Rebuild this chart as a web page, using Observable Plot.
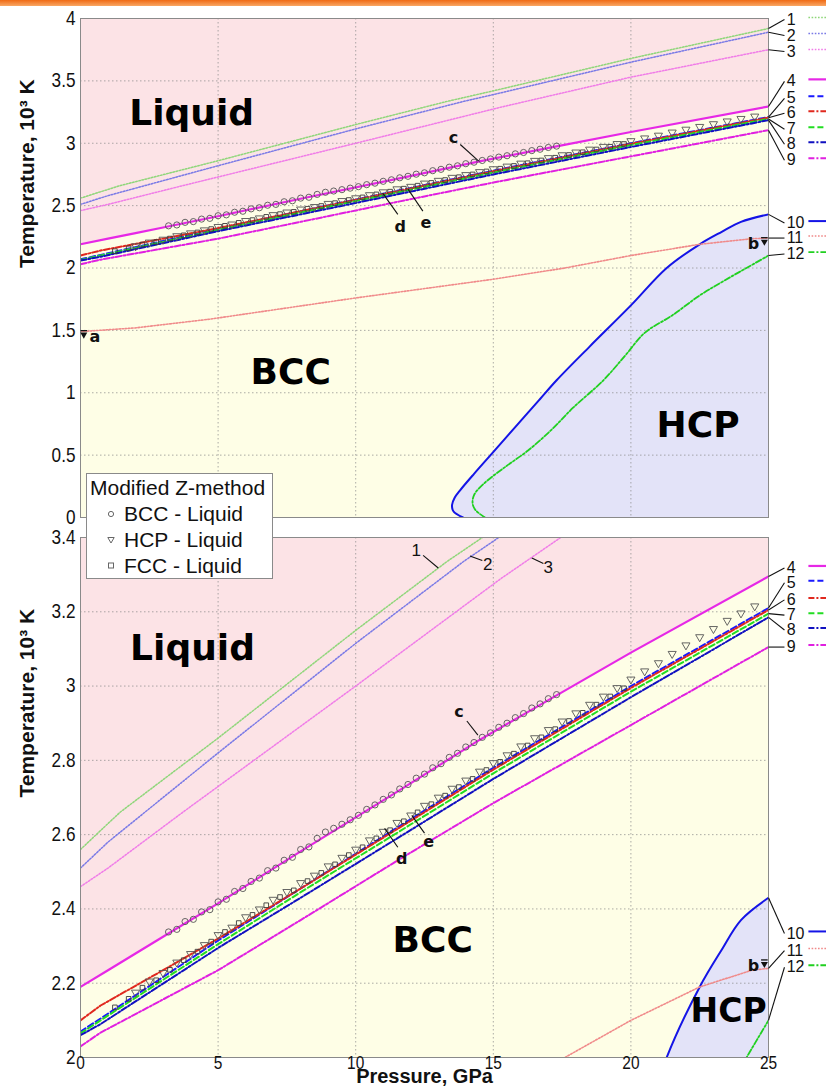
<!DOCTYPE html>
<html><head><meta charset="utf-8">
<script src="https://cdn.jsdelivr.net/npm/d3@7"></script>
<script src="https://cdn.jsdelivr.net/npm/@observablehq/plot@0.6"></script>
<style>
body{margin:0;background:#fff;width:826px;height:1086px;position:relative;overflow:hidden;}
#bar{position:absolute;left:0;top:0;width:826px;height:6px;background:linear-gradient(#f06a14,#f9a764);z-index:5;}
#top{position:absolute;left:0;top:0;}
#bot{position:absolute;left:0;top:522px;}
#legend{position:absolute;left:86px;top:473px;width:185px;height:104px;background:#fff;border:1px solid #8a8a8a;z-index:4;font-family:"Liberation Sans",Arial,sans-serif;font-size:21px;color:#111;}
#legend div{position:absolute;white-space:nowrap;line-height:22px;}
#legend svg{position:absolute;left:0;top:0;}
</style></head>
<body>
<div id="bar"></div>
<div id="top"></div>
<div id="bot"></div>
<div id="legend">
  <svg width="185" height="104">
    <circle cx="24" cy="40" r="2.6" fill="none" stroke="#666" stroke-width="1"/>
    <path d="M20.8,63.5 L27.2,63.5 L24,69 Z" fill="none" stroke="#666" stroke-width="1"/>
    <rect x="21.5" y="89" width="5" height="5" fill="none" stroke="#666" stroke-width="1"/>
  </svg>
  <div style="left:3px;top:3px">Modified Z-method</div>
  <div style="left:37px;top:29px">BCC - Liquid</div>
  <div style="left:37px;top:55px">HCP - Liquid</div>
  <div style="left:37px;top:81px">FCC - Liquid</div>
</div>
<script>
// ---------------- data ----------------
const xTicks = [0, 5, 10, 15, 20, 25];
const yTicksTop = [0, 0.5, 1, 1.5, 2, 2.5, 3, 3.5, 4];
const yTicksBot = [2, 2.2, 2.4, 2.6, 2.8, 3, 3.2, 3.4];

const line1X = [0, 1, 1.45, 5, 10, 13.33, 15, 20, 25];
const line1Y = [2.56, 2.63, 2.661, 2.86, 3.15, 3.336, 3.42, 3.68, 3.92];
const line2X = [0, 1, 5, 10, 13.93, 15, 20, 25];
const line2Y = [2.51, 2.58, 2.82, 3.115, 3.336, 3.39, 3.65, 3.89];
const line3X = [0, 1, 3.73, 10, 15.27, 20, 25];
const line3Y = [2.46, 2.51, 2.661, 3.0, 3.289, 3.53, 3.75];
const line4X = [0, 1, 2, 3, 5, 8, 11.5, 14.5, 17.3, 20, 25];
const line4Y = [2.19, 2.235, 2.28, 2.325, 2.415, 2.555, 2.715, 2.855, 2.975, 3.09, 3.295];
const line5X = [0, 0.73, 5, 8, 11.4, 15, 20, 25];
const line5Y = [2.07, 2.105, 2.315, 2.455, 2.614, 2.78, 3.0, 3.21];
const line6X = [0, 0.73, 3, 5, 8, 11.4, 15, 20, 25];
const line6Y = [2.10, 2.14, 2.235, 2.32, 2.455, 2.61, 2.775, 2.995, 3.205];
const line7X = [0, 0.73, 5, 8, 11.4, 15, 20, 25];
const line7Y = [2.065, 2.10, 2.305, 2.445, 2.60, 2.765, 2.985, 3.195];
const line8X = [0, 0.73, 5, 8, 11.4, 15, 20, 25];
const line8Y = [2.06, 2.09, 2.295, 2.43, 2.585, 2.75, 2.97, 3.185];
const line9X = [0, 0.73, 5, 8, 11.6, 15, 20, 25];
const line9Y = [2.03, 2.067, 2.235, 2.37, 2.534, 2.685, 2.895, 3.105];
const line10X = [13.9, 13.55, 13.5, 13.6, 13.8, 14.3, 14.9, 15.5, 16.1, 16.7, 17.3, 18.5, 20, 21.3, 22.5, 23.3, 24, 25];
const line10Y = [0, 0.05, 0.1, 0.16, 0.22, 0.35, 0.5, 0.65, 0.8, 0.95, 1.1, 1.37, 1.7, 2.0, 2.19, 2.29, 2.37, 2.43];
const line11X = [0, 2, 4.7, 10, 15, 17.6, 20, 22.5, 24.4, 25];
const line11Y = [1.49, 1.52, 1.59, 1.76, 1.91, 2.0, 2.1, 2.19, 2.235, 2.24];
const line12X = [14.7, 14.35, 14.25, 14.3, 14.65, 15.4, 16.25, 17.1, 17.9, 19.0, 19.8, 20.5, 21.5, 22.5, 23.4, 24.2, 25];
const line12Y = [0, 0.06, 0.11, 0.18, 0.27, 0.4, 0.535, 0.7, 0.88, 1.1, 1.3, 1.48, 1.62, 1.78, 1.9, 2.0, 2.1];

// Modified Z-method points
const bccX = [3.2,3.5,3.8,4.1,4.4,4.7,5.0,5.3,5.6,5.9,6.2,6.5,6.8,7.1,7.4,7.7,8.0,8.3,8.6,8.9,9.2,9.5,9.8,10.1,10.4,10.7,11.0,11.3,11.6,11.9,12.2,12.5,12.8,13.1,13.4,13.7,14.0,14.3,14.6,14.9,15.2,15.5,15.8,16.1,16.4,16.7,17.0,17.3];
const bccY = [2.338,2.345,2.366,2.372,2.392,2.398,2.419,2.426,2.447,2.455,2.474,2.483,2.503,2.510,2.531,2.539,2.560,2.567,2.590,2.607,2.617,2.628,2.640,2.652,2.668,2.680,2.695,2.707,2.723,2.735,2.752,2.763,2.780,2.791,2.808,2.819,2.836,2.848,2.862,2.874,2.889,2.900,2.915,2.926,2.941,2.952,2.966,2.977];
const hcpX = [2.0,2.5,3.0,3.5,4.0,4.5,5.0,5.5,6.0,6.5,7.0,7.5,8.0,8.5,9.0,9.5,10.0,10.5,11.0,11.5,12.0,12.5,13.0,13.5,14.0,14.5,15.0,15.5,16.0,16.5,17.0,17.5,18.0,18.5,19.0,19.5,20.0,20.5,21.0,21.5,22.0,22.5,23.0,23.5,24.0,24.5];
const hcpY = [2.175,2.205,2.228,2.256,2.279,2.303,2.330,2.350,2.378,2.399,2.425,2.446,2.470,2.490,2.515,2.538,2.560,2.585,2.608,2.632,2.652,2.678,2.700,2.724,2.746,2.770,2.793,2.814,2.838,2.860,2.882,2.905,2.927,2.950,2.972,2.995,3.018,3.040,3.062,3.087,3.110,3.132,3.154,3.176,3.196,3.215];
const fccX = [1.25,1.75,2.25,2.75,3.25,3.75,4.25,4.75,5.25,5.75,6.25,6.75,7.25,7.75,8.25,8.75,9.25,9.75,10.25,10.75,11.25,11.75,12.25,12.75,13.25,13.75,14.25,14.75,15.25,15.75,16.25,16.75,17.25,17.75,18.25,18.75,19.25,19.75];
const fccY = [2.135,2.158,2.188,2.208,2.236,2.262,2.285,2.312,2.338,2.362,2.384,2.410,2.432,2.450,2.475,2.497,2.520,2.545,2.566,2.590,2.612,2.636,2.660,2.682,2.705,2.728,2.750,2.774,2.796,2.818,2.840,2.862,2.884,2.906,2.928,2.950,2.972,2.994];

const seriesIds = ["1","2","3","4","5","6","7","8","9","10","11","12"];
const seriesColors = ["#8fd67a","#7a7ae6","#f07ce8","#e628e6","#1a1aff","#e0281e","#22dd22","#1010c0","#e020e0","#1414e6","#f08a8a","#20d020"];
const seriesDash = ["1.6,1.6","1.6,1.6","1.6,1.6",null,"6,3","6,2,2,2","6,3","6,2,2,2","6,2,2,2",null,"1.6,1.6","6,2,2,2"];
const seriesWidth = [1.5,1.5,1.5,2.2,2,2,2,2,2,2,1.6,1.8];
const seriesX = [line1X,line2X,line3X,line4X,line5X,line6X,line7X,line8X,line9X,line10X,line11X,line12X];
const seriesY = [line1Y,line2Y,line3Y,line4Y,line5Y,line6Y,line7Y,line8Y,line9Y,line10Y,line11Y,line12Y];

// right-side label positions (temperature units)
const topLabelIds = ["1","2","3","4","5","6","7","8","9","10","11","12"];
const topLabelY = [3.992,3.864,3.736,3.496,3.36,3.24,3.112,2.992,2.864,2.36,2.24,2.112];
const botLabelIds = ["4","5","6","7","8","9","10","11","12"];
const botLabelY = [3.318,3.278,3.232,3.191,3.151,3.105,2.334,2.288,2.243];

// annotations
const annTopText = ["c","d","e"];
const annTopX = [13.55, 11.62, 12.55];
const annTopY = [3.04, 2.33, 2.36];
const annTopFrom = [[13.8,2.99],[11.53,2.43],[12.44,2.456]];
const annTopTo = [[14.47,2.856],[10.98,2.6],[11.9,2.632]];
const annBotText = ["c","d","e","1","2","3"];
const annBotX = [13.75, 11.67, 12.65, 12.2, 14.8, 17.0];
const annBotY = [2.93, 2.536, 2.58, 3.365, 3.326, 3.318];
const annBotFrom = [[14.04,2.906],[11.53,2.566],[12.5,2.604],[12.45,3.352],[14.6,3.338],[16.82,3.33]];
const annBotTo = [[14.44,2.868],[11.05,2.617],[12.04,2.652],[13.0,3.318],[14.15,3.35],[16.4,3.345]];

// ---------------- helpers ----------------
const FONT = '"Liberation Sans",Arial,sans-serif';
const BOLDREG = '"DejaVu Sans",Verdana,sans-serif';
const pts = (xs, ys) => xs.map((x, i) => ({x, y: ys[i]}));
const series = seriesIds.map((id, i) => ({id, color: seriesColors[i], dash: seriesDash[i], w: seriesWidth[i], data: pts(seriesX[i], seriesY[i])}));
const byId = Object.fromEntries(series.map(s => [s.id, s]));

// horizontally compress texts (narrow font look); keeps em-based y attributes intact
function condense(svg, selector, sx) {
  svg.querySelectorAll(selector).forEach(el => {
    const xa = el.getAttribute("x");
    let x = 0;
    if (xa != null && xa !== "" && !isNaN(+xa)) { x = +xa; el.removeAttribute("x"); }
    const t = el.getAttribute("transform") || "";
    el.setAttribute("transform", `${t} translate(${x},0) scale(${sx},1)`);
  });
}

function panel(opt) {
  const {ymin, ymax, yticks, height, mt, mb, showX, labelIds, labelY, ann, regions, markAB} = opt;
  const marks = [];
  marks.push(Plot.frame({fill: "#fefee6"}));
  marks.push(Plot.areaY(byId["4"].data, {x: "x", y1: "y", y2: ymax, fill: "#fce3e6", clip: true}));
  marks.push(Plot.areaX(byId["10"].data, {y: "y", x1: "x", x2: 25, fill: "#e3e3f8", clip: true}));
  marks.push(Plot.gridX(xTicks.slice(1, -1), {stroke: "#8c8c8c", strokeOpacity: 0.9, strokeDasharray: "1.5,2.5", strokeWidth: 0.8}));
  marks.push(Plot.gridY(yticks.slice(1, -1), {stroke: "#8c8c8c", strokeOpacity: 0.9, strokeDasharray: "1.5,2.5", strokeWidth: 0.8}));
  for (const s of series) {
    marks.push(Plot.line(s.data, {x: "x", y: "y", stroke: s.color, strokeWidth: s.w, strokeDasharray: s.dash, clip: true,
      curve: (s.id === "10" || s.id === "12") ? "catmull-rom" : "linear"}));
  }
  marks.push(Plot.dot(pts(fccX, fccY), {x: "x", y: "y", symbol: "square", r: 2.6, stroke: "#3a3a3a", strokeWidth: 0.9, clip: true}));
  marks.push(Plot.dot(pts(hcpX, hcpY), {x: "x", y: "y", symbol: "triangle", rotate: 180, r: 3, stroke: "#555", strokeWidth: 0.9, clip: true}));
  marks.push(Plot.dot(pts(bccX, bccY), {x: "x", y: "y", r: 3.1, stroke: "#555", strokeWidth: 0.9, clip: true}));
  marks.push(Plot.frame({stroke: "#8a8a8a"}));
  // a / b markers
  for (const m of markAB) {
    marks.push(Plot.dot([m], {x: "x", y: "y", symbol: "triangle", rotate: 180, r: 2.6, fill: "#111", dy: 3}));
    marks.push(Plot.link([m], {x1: d => d.x - 0.12, x2: d => d.x + 0.12, y1: "y", y2: "y", stroke: "#111", strokeWidth: 1.3, dy: -1}));
    marks.push(Plot.text([m], {x: "x", y: "y", text: "t", dx: m.dx, dy: 5, fontFamily: BOLDREG, fontWeight: "bold", fontSize: 16, fill: "#111"}));
  }
  // region labels
  marks.push(Plot.text(regions, {x: "x", y: "y", text: "t", fontFamily: BOLDREG, fontWeight: "bold", fontSize: d => d.fs, fill: "#000"}));
  // annotations with leaders
  const annRows = ann.text.map((t, i) => ({t, x: ann.x[i], y: ann.y[i], x1: ann.from[i][0], y1: ann.from[i][1], x2: ann.to[i][0], y2: ann.to[i][1]}));
  marks.push(Plot.link(annRows, {x1: "x1", y1: "y1", x2: "x2", y2: "y2", stroke: "#111", strokeWidth: 1.1}));
  marks.push(Plot.text(annRows.filter(d => !/\d/.test(d.t)), {x: "x", y: "y", text: "t", fontFamily: BOLDREG, fontWeight: "bold", fontSize: 16, fill: "#111"}));
  marks.push(Plot.text(annRows.filter(d => /\d/.test(d.t)), {x: "x", y: "y", text: "t", fontFamily: FONT, fontSize: 17, fill: "#111", ariaLabel: "narrow"}));
  // right-side labels, leaders, line samples
  const lab = labelIds.map((id, i) => {
    const s = byId[id];
    const last = s.data[s.data.length - 1];
    return {id, ly: labelY[i], ex: last.x, ey: last.y, color: s.color, dash: s.dash, w: s.w};
  });
  marks.push(Plot.link(lab, {x1: "ex", y1: "ey", x2: 25.58, y2: "ly", stroke: "#111", strokeWidth: 1.1}));
  marks.push(Plot.text(lab, {x: 25.66, y: "ly", text: "id", textAnchor: "start", fontFamily: FONT, fontSize: 16, fill: "#111", ariaLabel: "narrow"}));
  for (const l of lab) {
    marks.push(Plot.link([l], {x1: 26.45, x2: 27.5, y1: "ly", y2: "ly", dy: -2, stroke: l.color, strokeWidth: l.w, strokeDasharray: l.dash}));
  }
  // axes
  marks.push(Plot.axisY(yticks, {tickSize: 0, tickPadding: 5, fontSize: 20, tickFormat: d => String(d), label: null, fontFamily: FONT, fill: "#111"}));
  if (showX) {
    marks.push(Plot.axisX(xTicks, {tickSize: 0, tickPadding: -1, fontSize: 18, label: null, fontFamily: FONT, fill: "#111"}));
    marks.push(Plot.text(["Pressure, GPa"], {frameAnchor: "bottom", dy: 25, fontFamily: FONT, fontWeight: "bold", fontSize: 20, fill: "#111", ariaLabel: "xtitle"}));
  }
  marks.push(Plot.text(["Temperature, 10³ K"], {frameAnchor: "left", dx: -53, rotate: -90, fontFamily: FONT, fontWeight: "bold", fontSize: 21, fill: "#111", ariaLabel: "ytitle"}));

  const svg = Plot.plot({
    width: 826, height, marginLeft: 80, marginRight: 58, marginTop: mt, marginBottom: mb,
    x: {domain: [0, 25], axis: showX ? undefined : null},
    y: {domain: [ymin, ymax]},
    style: {overflow: "visible", background: "transparent", fontFamily: FONT},
    marks
  });
  condense(svg, 'g[aria-label$="tick label"] text', 0.86);
  condense(svg, 'g[aria-label="narrow"] text', 0.88);
  condense(svg, 'g[aria-label="ytitle"] text', 0.74);
  condense(svg, 'g[aria-label="xtitle"] text', 0.95);
  return svg;
}

document.getElementById("top").append(panel({
  ymin: 0, ymax: 4, yticks: yTicksTop, height: 530, mt: 18, mb: 13, showX: false,
  labelIds: topLabelIds, labelY: topLabelY,
  ann: {text: annTopText, x: annTopX, y: annTopY, from: annTopFrom, to: annTopTo},
  regions: [{t: "Liquid", x: 4.04, y: 3.24, fs: 36}, {t: "BCC", x: 7.64, y: 1.16, fs: 36}, {t: "HCP", x: 22.44, y: 0.74, fs: 36}],
  markAB: [{t: "a", x: 0.12, y: 1.49, dx: 11}, {t: "b", x: 24.85, y: 2.235, dx: -11}]
}));
document.getElementById("bot").append(panel({
  ymin: 2, ymax: 3.4, yticks: yTicksBot, height: 564, mt: 15, mb: 29, showX: true,
  labelIds: botLabelIds, labelY: botLabelY,
  ann: {text: annBotText, x: annBotX, y: annBotY, from: annBotFrom, to: annBotTo},
  regions: [{t: "Liquid", x: 4.07, y: 3.10, fs: 36}, {t: "BCC", x: 12.8, y: 2.315, fs: 36}, {t: "HCP", x: 23.55, y: 2.125, fs: 33}],
  markAB: [{t: "b", x: 24.85, y: 2.26, dx: -11}]
}));
</script>
</body></html>
